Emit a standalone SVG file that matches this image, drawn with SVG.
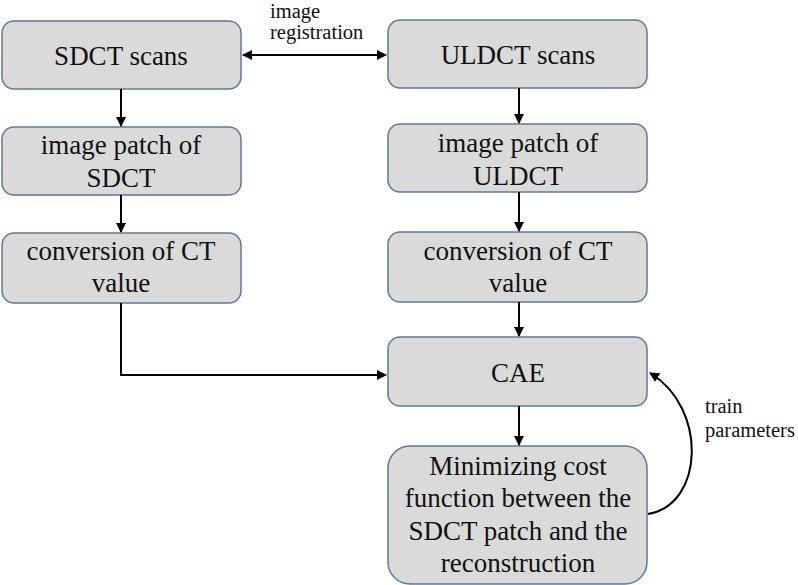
<svg xmlns="http://www.w3.org/2000/svg" width="798" height="585" viewBox="0 0 798 585">
<defs>
<marker id="ah" viewBox="0 0 10 10" refX="9" refY="5" markerWidth="10" markerHeight="10" markerUnits="userSpaceOnUse" orient="auto-start-reverse">
<path d="M0,0 L10,5 L0,10 z" fill="#000"/>
</marker>
<style>
.box{fill:#dadada;stroke:#5a7a9a;stroke-width:1.5}
.t{font-size:27px;fill:#111;text-anchor:middle}
.l{font-size:20.5px;fill:#111}
.c{fill:none;stroke:#000;stroke-width:2}
</style>
</defs>
<rect width="798" height="585" fill="#fff"/>
<g font-family="'Liberation Serif', 'Times New Roman', 'DejaVu Serif', serif">
<g id="n_sdct_scans"><rect class="box" x="2" y="21" width="239" height="68" rx="12"/><text class="t" x="121" y="65">SDCT scans</text></g>
<g id="n_patch_sdct"><rect class="box" x="2" y="127" width="239" height="68" rx="12"/><text class="t" x="121" y="154">image patch of</text><text class="t" x="121" y="187">SDCT</text></g>
<g id="n_conv_sdct"><rect class="box" x="2" y="233" width="239" height="70" rx="12"/><text class="t" x="121" y="260">conversion of CT</text><text class="t" x="121" y="292">value</text></g>
<g id="n_uldct_scans"><rect class="box" x="388" y="20" width="259" height="68" rx="12"/><text class="t" x="518" y="64">ULDCT scans</text></g>
<g id="n_patch_uldct"><rect class="box" x="388" y="124" width="259" height="68" rx="12"/><text class="t" x="518" y="152">image patch of</text><text class="t" x="518" y="185">ULDCT</text></g>
<g id="n_conv_uldct"><rect class="box" x="388" y="232" width="259" height="70" rx="12"/><text class="t" x="518" y="260">conversion of CT</text><text class="t" x="518" y="292">value</text></g>
<g id="n_cae"><rect class="box" x="388" y="337" width="259" height="69" rx="12"/><text class="t" x="518" y="382">CAE</text></g>
<g id="n_min"><rect class="box" x="388" y="446" width="259" height="138" rx="22"/><text class="t" x="518" y="475">Minimizing cost</text><text class="t" x="518" y="507">function between the</text><text class="t" x="518" y="540">SDCT patch and the</text><text class="t" x="518" y="572">reconstruction</text></g>
<g id="labels">
<text class="l" x="270" y="18">image</text>
<text class="l" x="270" y="39">registration</text>
<text class="l" x="705" y="413">train</text>
<text class="l" x="705" y="437">parameters</text>
</g>
</g>
<g id="connectors">
<path class="c" d="M243,55 H386" marker-start="url(#ah)" marker-end="url(#ah)"/>
<path class="c" d="M121,89 V126" marker-end="url(#ah)"/>
<path class="c" d="M121,195 V232" marker-end="url(#ah)"/>
<path class="c" d="M519,88 V123" marker-end="url(#ah)"/>
<path class="c" d="M519,192 V231" marker-end="url(#ah)"/>
<path class="c" d="M519,302 V336" marker-end="url(#ah)"/>
<path class="c" d="M519,406 V445" marker-end="url(#ah)"/>
<path class="c" d="M121,303 V375 H386" marker-end="url(#ah)"/>
<path class="c" d="M648,514 C704,505 708,408 650,373" marker-end="url(#ah)"/>
</g>
</svg>
